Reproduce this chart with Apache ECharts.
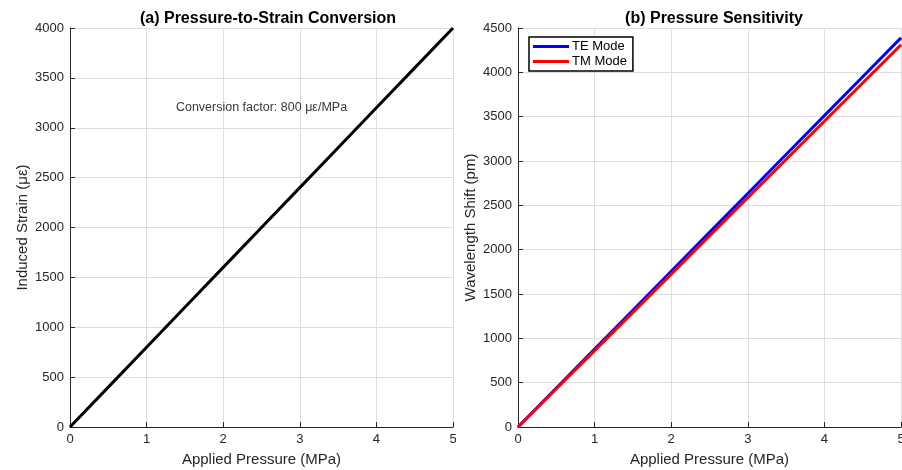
<!DOCTYPE html>
<html>
<head>
<meta charset="utf-8">
<script src="https://cdn.jsdelivr.net/npm/echarts@6/dist/echarts.min.js"></script>
<style>
  html, body { margin: 0; padding: 0; background: #fff; }
  #chart { width: 902px; height: 470px; }
</style>
</head>
<body>
<div id="chart"></div>
<script>
// pressure samples (MPa)
var pressure = [0, 0.5, 1, 1.5, 2, 2.5, 3, 3.5, 4, 4.5, 5];
// induced strain (µε), 800 µε/MPa
var strain = [0, 400, 800, 1200, 1600, 2000, 2400, 2800, 3200, 3600, 4000];
// wavelength shift (pm)
var teShift = [0, 439, 878, 1317, 1756, 2195, 2634, 3073, 3512, 3951, 4390];
var tmShift = [0, 431, 862, 1293, 1724, 2155, 2586, 3017, 3448, 3879, 4310];

function pairs(xs, ys) {
  return xs.map(function (x, i) { return [x, ys[i]]; });
}

var font = "'Liberation Sans', Arial, sans-serif";
var axisCol = '#262626';
var gridCol = '#dedede';

function xAxisOpt(idx) {
  return {
    type: 'value', gridIndex: idx, min: 0, max: 5, interval: 1,
    name: 'Applied Pressure (MPa)', nameLocation: 'middle', nameGap: 25,
    nameTextStyle: { fontFamily: font, fontSize: 15, color: axisCol },
    axisLine: { show: true, onZero: false, lineStyle: { color: axisCol, width: 1 } },
    axisTick: { show: true, inside: true, length: 5, lineStyle: { color: axisCol } },
    axisLabel: { fontFamily: font, fontSize: 13, color: axisCol, margin: 6 },
    splitLine: { show: true, lineStyle: { color: gridCol, width: 1 } }
  };
}
function yAxisOpt(idx, name, max) {
  return {
    type: 'value', gridIndex: idx, min: 0, max: max, interval: 500,
    name: name, nameLocation: 'middle', nameGap: 40,
    nameTextStyle: { fontFamily: font, fontSize: 15, color: axisCol },
    axisLine: { show: true, lineStyle: { color: axisCol, width: 1 } },
    axisTick: { show: true, inside: true, length: 5, lineStyle: { color: axisCol } },
    axisLabel: { fontFamily: font, fontSize: 13, color: axisCol, margin: 6,
      formatter: function (v) { return String(v); } },
    splitLine: { show: true, lineStyle: { color: gridCol, width: 1 } }
  };
}

var chart = echarts.init(document.getElementById('chart'));
chart.setOption({
  animation: false,
  backgroundColor: '#fff',
  title: [
    { text: '(a) Pressure-to-Strain Conversion', left: 263, top: 6, textAlign: 'center',
      textStyle: { fontFamily: font, fontSize: 16, fontWeight: 'bold', color: '#000' } },
    { text: '(b) Pressure Sensitivity', left: 709, top: 6, textAlign: 'center',
      textStyle: { fontFamily: font, fontSize: 16, fontWeight: 'bold', color: '#000' } }
  ],
  grid: [
    { left: 70, right: 449, top: 28, bottom: 43, outerBoundsMode: 'none' },
    { left: 518, right: 1, top: 28, bottom: 43, outerBoundsMode: 'none' }
  ],
  xAxis: [xAxisOpt(0), xAxisOpt(1)],
  yAxis: [yAxisOpt(0, 'Induced Strain (\u03bc\u03b5)', 4000), yAxisOpt(1, 'Wavelength Shift (pm)', 4500)],
  legend: {
    left: 529, top: 37, orient: 'vertical',
    data: ['TE Mode', 'TM Mode'],
    icon: 'path://M0,0 L36,0 L36,3 L0,3 Z',
    itemWidth: 36, itemHeight: 3, itemGap: 2,
    padding: [3, 6, 3, 4],
    borderColor: '#000', borderWidth: 1.5, borderRadius: 0, backgroundColor: '#fff',
    textStyle: { fontFamily: font, fontSize: 13, color: '#000', padding: [0, 0, 0, -2] }
  },
  series: [
    {
      type: 'line', xAxisIndex: 0, yAxisIndex: 0, data: pairs(pressure, strain),
      showSymbol: false, lineStyle: { color: '#000', width: 3 }, itemStyle: { color: '#000' }
    },
    {
      type: 'scatter', xAxisIndex: 0, yAxisIndex: 0, data: [[2.5, 3200]],
      symbolSize: 0, silent: true,
      label: { show: true, position: 'inside', formatter: 'Conversion factor: 800 \u03bc\u03b5/MPa',
        fontFamily: font, fontSize: 12.5, color: '#000' }
    },
    {
      name: 'TE Mode', type: 'line', xAxisIndex: 1, yAxisIndex: 1, data: pairs(pressure, teShift),
      showSymbol: false, lineStyle: { color: '#0000ff', width: 3 }, itemStyle: { color: '#0000ff' }
    },
    {
      name: 'TM Mode', type: 'line', xAxisIndex: 1, yAxisIndex: 1, data: pairs(pressure, tmShift),
      showSymbol: false, lineStyle: { color: '#ff0000', width: 3 }, itemStyle: { color: '#ff0000' }
    }
  ]
});
</script>
</body>
</html>
